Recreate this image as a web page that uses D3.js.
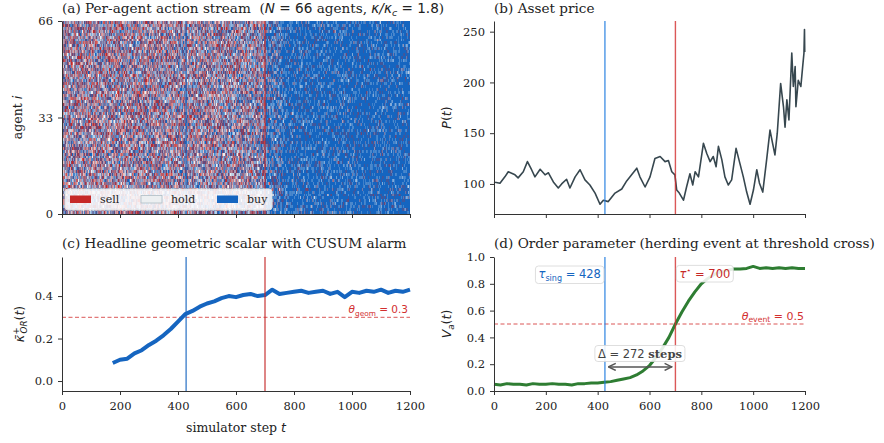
<!DOCTYPE html>
<html>
<head>
<meta charset="utf-8">
<script src="https://cdn.jsdelivr.net/npm/d3@7"></script>
<style>
  body { margin: 0; background: #fff; }
  svg text { white-space: pre; }
  .tick text { font-family: "DejaVu Serif"; font-size: 11.5px; fill: #222; }
  .tick line, .domain { stroke: #333; }
</style>
</head>
<body>
<svg id="fig" width="884" height="443"></svg>
<script>
// ---- data ----
const nAgents = 66;
const nSteps = 1200;
const tauSing = 428;
const tauStar = 700;
const thetaGeom = 0.3;
const thetaEvent = 0.5;

// action mix per segment of the stream (fraction of agents buying / selling)
const segStart = [0, 100, 200, 300, 400, 500, 600, 650, 700, 760, 850, 1000];
const segBuy   = [0.34, 0.34, 0.34, 0.35, 0.35, 0.36, 0.38, 0.42, 0.72, 0.86, 0.88, 0.89];
const segSell  = [0.33, 0.33, 0.33, 0.32, 0.32, 0.31, 0.29, 0.27, 0.12, 0.05, 0.04, 0.04];

// asset price
const priceT = [0, 4, 23, 42, 55, 81, 93, 113, 129, 145, 158, 178, 197, 210, 229, 248, 261, 280, 293, 313,
  332, 351, 370, 390, 409, 422, 441, 467, 493, 512, 531, 551, 563, 583, 602, 621, 641, 660, 673, 686,
  698, 705, 715, 731, 743, 756, 767, 776, 789, 808, 821, 834, 846, 857, 866, 879, 891, 904, 917, 934,
  949, 962, 975, 988, 1001, 1014, 1024, 1037, 1052, 1065, 1075, 1084, 1093, 1106, 1117, 1123, 1130, 1138, 1149, 1155,
  1162, 1165, 1174, 1184, 1191, 1196, 1198, 1199];
const priceP = [102, 101.7, 100.7, 107, 112, 109, 106, 112, 122, 114, 107, 114.5, 109, 111, 102, 96, 100, 104.6, 96, 107,
  114, 104, 99, 91, 80, 84, 82.6, 91, 95, 103, 109, 115.5, 107, 97, 107, 125, 127, 122, 123, 112,
  109, 94, 91, 84, 97, 110, 99, 112, 107, 140, 130, 122, 127, 117, 137, 124, 107, 99, 104, 135,
  120, 107, 92, 80, 94, 114, 101, 92, 124, 153, 140, 128.6, 150, 199, 176, 156, 183, 163, 229, 196,
  215.6, 176, 202, 196, 215.6, 229, 252, 230];

// headline geometric scalar
const kappaT = [175, 200, 225, 250, 275, 300, 325, 350, 375, 400, 425, 450, 475, 500, 525, 550, 575, 600, 625, 650,
  675, 700, 725, 750, 775, 800, 825, 850, 875, 900, 925, 950, 975, 1000, 1025, 1050, 1075, 1100, 1125, 1150, 1175, 1200];
const kappaV = [0.085, 0.10, 0.105, 0.13, 0.145, 0.17, 0.19, 0.215, 0.245, 0.28, 0.315, 0.33, 0.35, 0.365, 0.375, 0.39, 0.40, 0.395, 0.405, 0.41,
  0.40, 0.405, 0.43, 0.41, 0.415, 0.42, 0.425, 0.415, 0.42, 0.425, 0.41, 0.42, 0.395, 0.42, 0.415, 0.425, 0.42, 0.43, 0.415, 0.425, 0.42, 0.43];

// order parameter
const orderT = [0, 25, 50, 75, 100, 125, 150, 175, 200, 225, 250, 275, 300, 325, 350, 375, 400, 425, 450, 475,
  500, 525, 550, 575, 600, 625, 650, 675, 700, 725, 750, 775, 800, 825, 850, 875, 900, 925, 950, 975,
  1000, 1025, 1050, 1075, 1100, 1125, 1150, 1175, 1200];
const orderV = [0.05, 0.045, 0.055, 0.05, 0.05, 0.045, 0.055, 0.05, 0.05, 0.055, 0.05, 0.05, 0.045, 0.055, 0.055, 0.06, 0.06, 0.065, 0.07, 0.08,
  0.09, 0.10, 0.12, 0.15, 0.19, 0.25, 0.32, 0.40, 0.50, 0.59, 0.67, 0.74, 0.80, 0.84, 0.87, 0.89, 0.90, 0.91, 0.91, 0.915,
  0.93, 0.915, 0.92, 0.915, 0.92, 0.915, 0.92, 0.915, 0.915];

const xTicks = [0, 200, 400, 600, 800, 1000, 1200];
const actionNames = ["sell", "hold", "buy"];

// ---- style ----
const cSell = "#C62828", cHold = "#ECEFF1", cBuy = "#1565C0";
const cBlue = "#1565C0", cRed = "#C62828", cGreen = "#2E7D32", cPrice = "#37474F";
const rgbOf = [d3.rgb(cSell), d3.rgb(cHold), d3.rgb(cBuy)];

const svg = d3.select("#fig");

// panel boxes
const A = { l: 62, r: 410, t: 21, b: 214 };
const B = { l: 494, r: 805, t: 21, b: 214 };
const C = { l: 62, r: 410, t: 257, b: 391 };
const D = { l: 494, r: 805, t: 257, b: 391 };

// mixed-font text (serif body, DejaVu Sans mathtext)
function rich(sel, parts, size) {
  let shift = 0;
  parts.forEach(p => {
    const ts = sel.append("tspan").text(p.t)
      .attr("font-family", p.f === "serif" ? "DejaVu Serif" : "DejaVu Sans")
      .attr("font-style", p.i ? "italic" : "normal")
      .attr("font-weight", p.b ? "bold" : "normal");
    const target = p.sub ? size * 0.22 : p.sup ? -size * 0.4 : 0;
    ts.attr("dy", target - shift);
    shift = target;
    if (p.sub || p.sup) ts.attr("font-size", size * 0.7);
    if (p.dx) ts.attr("dx", p.dx);
  });
  return sel;
}

function addText(x, y, parts, size, opts = {}) {
  const t = svg.append("text")
    .attr("x", x).attr("y", y)
    .attr("font-size", size)
    .attr("fill", opts.fill || "#222")
    .attr("text-anchor", opts.anchor || "start");
  if (opts.rotate) t.attr("transform", `rotate(-90,${x},${y})`);
  return rich(t, parts, size);
}

function xAxis(box, scale, labels) {
  const ax = d3.axisBottom(scale).tickValues(xTicks).tickSizeInner(4).tickSizeOuter(0).tickPadding(7);
  ax.tickFormat(labels ? d3.format("d") : "");
  svg.append("g").attr("transform", `translate(0,${box.b})`).call(ax);
}

function yAxis(box, scale, ticks, fmt) {
  const ax = d3.axisLeft(scale).tickValues(ticks).tickSizeInner(4).tickSizeOuter(0).tickPadding(5);
  if (fmt) ax.tickFormat(fmt);
  svg.append("g").attr("transform", `translate(${box.l},0)`).call(ax);
}

function vLine(box, scale, t, color) {
  svg.append("line")
    .attr("x1", scale(t)).attr("x2", scale(t))
    .attr("y1", box.t).attr("y2", box.b)
    .attr("stroke", color).attr("stroke-width", 1.4).attr("opacity", 0.8);
}

function hLine(box, y, color) {
  svg.append("line")
    .attr("x1", box.l).attr("x2", box.r)
    .attr("y1", y).attr("y2", y)
    .attr("stroke", color).attr("stroke-width", 1).attr("stroke-dasharray", "4,2.5").attr("opacity", 0.8);
}

// ---------- (a) per-agent action stream ----------
// deterministic cell scrambler (murmur3 finaliser on agent/step)
function cellHash(i, t) {
  let h = Math.imul(i + 1, 0x9E3779B1) ^ Math.imul(t + 7, 0x85EBCA77);
  h ^= h >>> 16; h = Math.imul(h, 0x85EBCA6B);
  h ^= h >>> 13; h = Math.imul(h, 0xC2B2AE35);
  h ^= h >>> 16;
  return (h >>> 0) / 4294967296;
}
function action(i, t) {
  const s = d3.bisectRight(segStart, t) - 1;
  const u = cellHash(i, t);
  if (u < segSell[s]) return 0;
  if (u < 1 - segBuy[s]) return 1;
  return 2;
}

const xa = d3.scaleLinear().domain([0, nSteps]).range([A.l, A.r]);
const ya = d3.scaleLinear().domain([0, nAgents]).range([A.b, A.t]);

// image-like resampling: one pixel column averages the steps it covers
const cells = [];
for (let px = A.l; px < A.r; px++) {
  const t0 = Math.max(0, Math.floor(xa.invert(px)));
  const t1 = Math.min(nSteps, Math.max(t0 + 1, Math.ceil(xa.invert(px + 1))));
  for (let i = 0; i < nAgents; i++) {
    let r = 0, g = 0, b = 0;
    for (let t = t0; t < t1; t++) {
      const c = rgbOf[action(i, t)];
      r += c.r; g += c.g; b += c.b;
    }
    const n = t1 - t0;
    cells.push({ px, i, fill: d3.rgb(r / n, g / n, b / n).formatHex() });
  }
}
svg.append("g").attr("shape-rendering", "crispEdges")
  .selectAll("rect").data(cells).join("rect")
  .attr("x", d => d.px)
  .attr("y", d => Math.round(ya(d.i + 1)))
  .attr("width", 1)
  .attr("height", d => Math.round(ya(d.i)) - Math.round(ya(d.i + 1)))
  .attr("fill", d => d.fill);

vLine(A, xa, tauSing, cBlue);
vLine(A, xa, tauStar, cRed);
xAxis(A, xa, false);
yAxis(A, ya, [0, 33, 66]);

// legend
const leg = svg.append("g");
leg.append("rect").attr("x", 65).attr("y", 189).attr("width", 207).attr("height", 21)
  .attr("rx", 3).attr("fill", "#fff").attr("fill-opacity", 0.85).attr("stroke", "#ddd");
const legX = [70, 141, 217];
actionNames.forEach((name, k) => {
  leg.append("rect").attr("x", legX[k]).attr("y", 195.5).attr("width", 21).attr("height", 7.5)
    .attr("fill", [cSell, cHold, cBuy][k]).attr("stroke", k === 1 ? "#B0BEC5" : "none").attr("stroke-width", 0.8);
  leg.append("text").attr("x", legX[k] + 30).attr("y", 203)
    .attr("font-family", "DejaVu Serif").attr("font-size", 11).attr("fill", "#222").text(name);
});

addText(A.l, 13, [
  { t: "(a) Per-agent action stream  (", f: "serif" }, { t: "N", i: 1 }, { t: " = 66" },
  { t: " agents, ", f: "serif" }, { t: "κ/κ", i: 1 }, { t: "c", i: 1, sub: 1 }, { t: " = 1.8" }, { t: ")", f: "serif" }
], 13.6);
addText(22, (A.t + A.b) / 2, [{ t: "agent ", f: "serif" }, { t: "i", i: 1 }], 12.5, { rotate: true, anchor: "middle" });

// ---------- (b) asset price ----------
const xb = d3.scaleLinear().domain([0, nSteps]).range([B.l, B.r]);
const yb = d3.scaleLinear().domain([70.4, 260.5]).range([B.b, B.t]);
svg.append("path")
  .datum(d3.range(priceT.length))
  .attr("fill", "none").attr("stroke", cPrice).attr("stroke-width", 1.6).attr("stroke-linejoin", "round")
  .attr("d", d3.line().x(k => xb(priceT[k])).y(k => yb(priceP[k])));
vLine(B, xb, tauSing, "#1E7BE0");
vLine(B, xb, tauStar, "#D32F2F");
xAxis(B, xb, false);
yAxis(B, yb, [100, 150, 200, 250]);
addText(B.l, 13, [{ t: "(b) Asset price", f: "serif" }], 13.6);
addText(451, (B.t + B.b) / 2, [{ t: "P", i: 1 }, { t: "(" }, { t: "t", i: 1 }, { t: ")" }], 12.5, { rotate: true, anchor: "middle" });

// ---------- (c) headline geometric scalar ----------
const xc = d3.scaleLinear().domain([0, nSteps]).range([C.l, C.r]);
const yc = d3.scaleLinear().domain([-0.047, 0.584]).range([C.b, C.t]);
hLine(C, yc(thetaGeom), "#D32F2F");
svg.append("path")
  .datum(d3.range(kappaT.length))
  .attr("fill", "none").attr("stroke", cBlue).attr("stroke-width", 4).attr("stroke-linejoin", "round")
  .attr("d", d3.line().x(k => xc(kappaT[k])).y(k => yc(kappaV[k])));
vLine(C, xc, tauSing, cBlue);
vLine(C, xc, tauStar, cRed);
xAxis(C, xc, true);
yAxis(C, yc, [0, 0.2, 0.4], d3.format(".1f"));
addText(C.r - 2, yc(thetaGeom) - 4, [{ t: "θ", i: 1 }, { t: "geom", sub: 1 }, { t: " = 0.3" }], 10.5, { fill: "#D32F2F", anchor: "end" });
addText(C.l, 247.5, [{ t: "(c) Headline geometric scalar with CUSUM alarm", f: "serif" }], 13.6);
addText(24, (C.t + C.b) / 2, [
  { t: "κ̄", i: 1 }, { t: "+", sup: 1 }, { t: "OR", i: 1, sub: 1, dx: -6 }, { t: "(" }, { t: "t", i: 1 }, { t: ")" }
], 12.5, { rotate: true, anchor: "middle" });
addText((C.l + C.r) / 2, 432, [{ t: "simulator step ", f: "serif" }, { t: "t", i: 1 }], 12.5, { anchor: "middle" });

// ---------- (d) order parameter ----------
const xd = d3.scaleLinear().domain([0, nSteps]).range([D.l, D.r]);
const yd = d3.scaleLinear().domain([0, 1]).range([D.b, D.t]);
hLine(D, yd(thetaEvent), "#D32F2F");
svg.append("path")
  .datum(d3.range(orderT.length))
  .attr("fill", "none").attr("stroke", cGreen).attr("stroke-width", 3).attr("stroke-linejoin", "round")
  .attr("d", d3.line().x(k => xd(orderT[k])).y(k => yd(orderV[k])));
vLine(D, xd, tauSing, "#1E7BE0");
vLine(D, xd, tauStar, "#D32F2F");
xAxis(D, xd, true);
yAxis(D, yd, [0, 0.2, 0.4, 0.6, 0.8, 1.0], d3.format(".1f"));
addText(D.l, 247.5, [{ t: "(d) Order parameter (herding event at threshold cross)", f: "serif" }], 13.6);
addText(451, (D.t + D.b) / 2, [{ t: "V", i: 1 }, { t: "a", i: 1, sub: 1 }, { t: "(" }, { t: "t", i: 1 }, { t: ")" }], 12.5, { rotate: true, anchor: "middle" });
addText(D.r - 1, yd(thetaEvent) - 4, [{ t: "θ", i: 1 }, { t: "event", sub: 1 }, { t: " = 0.5" }], 11, { fill: "#D32F2F", anchor: "end" });

// boxed annotations
function boxed(x, y, parts, size, fill, anchor) {
  const g = svg.append("g");
  const bg = g.append("rect");
  const t = g.append("text").attr("x", x).attr("y", y).attr("font-size", size)
    .attr("fill", fill).attr("text-anchor", anchor);
  rich(t, parts, size);
  const bb = t.node().getBBox();
  bg.attr("x", bb.x - 3).attr("y", bb.y - 1).attr("width", bb.width + 6).attr("height", bb.height + 2)
    .attr("rx", 3).attr("fill", "#fff").attr("fill-opacity", 0.88).attr("stroke", "#d6d6d6").attr("stroke-width", 0.8);
}
boxed(xd(tauSing) - 4, 278, [{ t: "τ", i: 1 }, { t: "sing", sub: 1 }, { t: " = 428" }], 11.5, cBlue, "end");
boxed(xd(tauStar) + 4, 278, [{ t: "τ", i: 1 }, { t: "⋆", sup: 1 }, { t: " = 700" }], 11.5, cRed, "start");
boxed(xd((tauSing + tauStar) / 2 - 1), 357.5, [{ t: "Δ = 272 " }, { t: "steps", f: "serif", b: 1 }], 11.5, "#444", "middle");

// double-headed arrow between the two times
const defs = svg.append("defs");
["s", "e"].forEach(k => {
  defs.append("marker").attr("id", "ah" + k).attr("viewBox", "0 0 10 10").attr("refX", 9).attr("refY", 5)
    .attr("markerWidth", 6).attr("markerHeight", 6).attr("orient", k === "s" ? "auto-start-reverse" : "auto")
    .append("path").attr("d", "M1,1 L9,5 L1,9").attr("fill", "none").attr("stroke", "#555").attr("stroke-width", 1.6);
});
svg.append("line")
  .attr("x1", xd(tauSing + 14)).attr("x2", xd(tauStar - 14))
  .attr("y1", yd(0.18)).attr("y2", yd(0.18))
  .attr("stroke", "#555").attr("stroke-width", 1.5)
  .attr("marker-start", "url(#ahs)").attr("marker-end", "url(#ahe)");
</script>
</body>
</html>
